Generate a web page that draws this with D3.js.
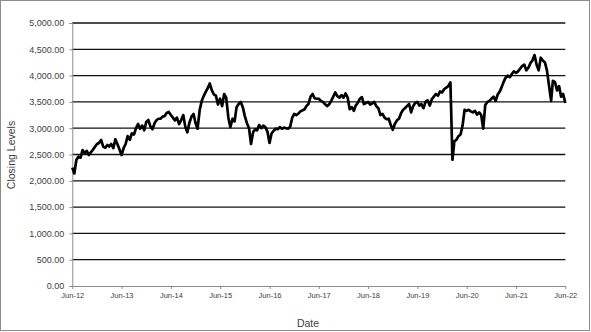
<!DOCTYPE html>
<html>
<head>
<meta charset="utf-8">
<script src="https://cdn.jsdelivr.net/npm/d3@7"></script>
<style>
  body { margin: 0; background: #fff; }
  text { font-family: "Liberation Sans", Arial, sans-serif; }
</style>
</head>
<body>
<div id="chart"></div>
<script>
// Half-monthly closing levels (1st and 16th of each month), Jun 2012 - Jun 2022
const startDate = new Date(2012, 5, 1);
const closes = [
  2250, 2140, 2395, 2458, 2440, 2585, 2522, 2570, 2490, 2540, 2590, 2648,
  2700, 2720, 2775, 2650, 2630, 2680, 2650, 2700, 2620, 2790, 2700, 2600,
  2490, 2620, 2700, 2850, 2780, 2900, 2880, 3000, 3080, 2990, 3050, 2960,
  3120, 3156, 3030, 2980, 3100, 3156, 3180, 3180, 3220, 3230, 3290, 3310,
  3250, 3200, 3150, 3200, 3080, 3150, 3250, 3030, 2920, 3100, 3220, 3270,
  3100, 2990, 3350, 3520, 3620, 3700, 3760, 3850, 3720, 3640, 3620, 3450,
  3560, 3420, 3650, 3580, 3200, 3020, 3180, 3130, 3400, 3460, 3500, 3400,
  3230, 3100, 3000, 2700, 2930, 2980, 2960, 3060, 3000, 3050, 3020, 2940,
  2720, 2900, 2950, 2990, 2980, 3020, 2990, 3010, 3000, 2990, 3030, 3200,
  3270, 3250, 3280, 3320, 3340, 3360, 3420, 3460, 3600, 3650, 3570, 3560,
  3560, 3520, 3500, 3460, 3420, 3450, 3520, 3600, 3680, 3610, 3580, 3630,
  3580, 3660, 3580, 3360, 3400, 3330, 3430, 3480, 3560, 3590, 3460, 3480,
  3500, 3450, 3470, 3500, 3420, 3380, 3250, 3270, 3200, 3170, 3180, 3060,
  2970, 3080, 3150, 3180, 3290, 3350, 3380, 3420, 3460, 3300, 3420, 3480,
  3500, 3430, 3460, 3380, 3500, 3530, 3430, 3550, 3600, 3650, 3620, 3700,
  3680, 3740, 3770, 3800, 3870, 2400, 2750, 2780, 2850, 2880, 3050, 3350,
  3330, 3350, 3320, 3300, 3330, 3260, 3300, 3250, 2990, 3440, 3500, 3520,
  3560, 3600, 3520, 3640, 3700, 3790, 3880, 3960, 4000, 3970, 4030, 4080,
  4050, 4080, 4130, 4180, 4210, 4100, 4150, 4240, 4290, 4390, 4200, 4100,
  4340, 4290, 4250, 4100, 3800, 3520, 3900, 3880, 3720, 3800, 3600, 3650,
  3480
];
const yTicks = [0, 500, 1000, 1500, 2000, 2500, 3000, 3500, 4000, 4500, 5000];
const tickYears = [2012, 2013, 2014, 2015, 2016, 2017, 2018, 2019, 2020, 2021, 2022];

const data = closes.map((v, i) => ({
  date: new Date(2012, 5 + Math.floor(i / 2), i % 2 ? 16 : 1),
  value: v
}));

const W = 591, H = 332;
const plot = { left: 72.3, right: 565.3, top: 23, bottom: 286 };

const svg = d3.select('#chart').append('svg')
  .attr('width', W)
  .attr('height', H);

svg.append('rect')
  .attr('x', 0.5).attr('y', 0.5)
  .attr('width', 589).attr('height', 330)
  .attr('fill', '#fff')
  .attr('stroke', '#8c8c8c');

const x = d3.scaleTime()
  .domain([startDate, new Date(2022, 5, 1)])
  .range([plot.left, plot.right]);

const y = d3.scaleLinear()
  .domain([0, 5000])
  .range([plot.bottom, plot.top]);

// Gridlines
svg.append('g')
  .selectAll('line')
  .data(yTicks.filter(d => d > 0))
  .enter().append('line')
  .attr('x1', plot.left)
  .attr('x2', plot.right)
  .attr('y1', d => y(d))
  .attr('y2', d => y(d))
  .attr('stroke', '#111')
  .attr('stroke-width', 1.3);

// Y axis
const yAxis = svg.append('g')
  .attr('transform', `translate(${plot.left},0)`)
  .call(d3.axisLeft(y).tickValues(yTicks).tickFormat(d3.format(',.2f')).tickSize(3).tickPadding(5));

// X axis
const xAxis = svg.append('g')
  .attr('transform', `translate(0,${plot.bottom})`)
  .call(d3.axisBottom(x)
    .tickValues(tickYears.map(yr => new Date(yr, 5, 1)))
    .tickFormat(d3.timeFormat('%b-%y'))
    .tickSize(3)
    .tickSizeOuter(0)
    .tickPadding(4));

[yAxis, xAxis].forEach(ax => {
  ax.select('.domain').attr('stroke', '#8c8c8c').attr('stroke-width', 1);
  ax.selectAll('.tick line').attr('stroke', '#8c8c8c');
  ax.selectAll('.tick text').attr('fill', '#404040');
});
yAxis.selectAll('.tick text').style('font-size', '9px');
xAxis.selectAll('.tick text').style('font-size', '7.5px');

// Line
const line = d3.line()
  .x(d => x(d.date))
  .y(d => y(d.value));

svg.append('path')
  .datum(data)
  .attr('d', line)
  .attr('fill', 'none')
  .attr('stroke', '#000')
  .attr('stroke-width', 2.7)
  .attr('stroke-linejoin', 'round');

// Axis titles
svg.append('text')
  .attr('transform', 'translate(15,155) rotate(-90)')
  .attr('text-anchor', 'middle')
  .style('font-size', '10.5px')
  .attr('fill', '#404040')
  .text('Closing Levels');

svg.append('text')
  .attr('x', 308)
  .attr('y', 327)
  .attr('text-anchor', 'middle')
  .style('font-size', '10.5px')
  .attr('fill', '#404040')
  .text('Date');
</script>
</body>
</html>
